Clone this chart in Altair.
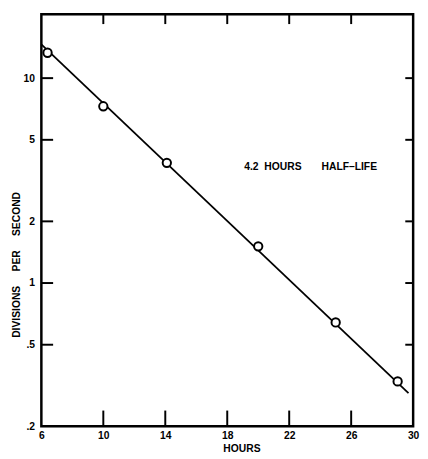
import altair as alt
import pandas as pd

# data
hours = [6.4, 10, 14.1, 20, 25, 29]
rate = [13.3, 7.29, 3.86, 1.51, 0.642, 0.331]
fit_hours = [6, 29.7]
fit_rate = [14.6, 0.29]
x_ticks = [6, 10, 14, 18, 22, 26, 30]
y_ticks = [0.2, 0.5, 1, 2, 5, 10]
inner_x_ticks = [10, 14, 18, 22, 26]
inner_y_ticks = [0.5, 1, 2, 5, 10]
NB = "\u00a0"
note_text = ["4.2" + NB * 2 + "HOURS" + NB * 7 + "HALF\u2013LIFE"]
note_x = [19.1]
note_y = [3.69]
x_title = "HOURS"
y_title = "DIVISIONS" + NB * 5 + "PER" + NB * 5 + "SECOND"

W, H = 379, 420
FONT = "Liberation Sans"

pts = pd.DataFrame({"h": hours, "r": rate})
fit = pd.DataFrame({"h": fit_hours, "r": fit_rate})
note = pd.DataFrame({"t": note_text, "h": note_x, "r": note_y})
xt = pd.DataFrame({"h": inner_x_ticks})
yt = pd.DataFrame({"r": inner_y_ticks})
frame_df = pd.DataFrame({"k": [0]})

xscale = alt.Scale(domain=[6, 30], nice=False, zero=False)
yscale = alt.Scale(type="log", domain=[0.2, 20.5], nice=False)

xaxis = alt.Axis(values=x_ticks, ticks=False, domain=False, grid=False,
                 labelPadding=4, labelFont=FONT, labelFontSize=10.5, labelFontWeight="bold",
                 labelColor="black", title=x_title, titleFont=FONT, titleFontSize=10.5,
                 titleFontWeight="bold", titleX=204, titleY=23, titleBaseline="middle",
                 titleAlign="center", titleColor="black", labelFlush=False, labelOverlap=False)
yaxis = alt.Axis(values=y_ticks, ticks=False, domain=False, grid=False,
                 labelPadding=7, labelFont=FONT, labelFontSize=10.5, labelFontWeight="bold",
                 labelColor="black",
                 labelExpr="datum.value < 1 ? replace(format(datum.value, '.1f'), '0.', '.') : format(datum.value, 'd')",
                 title=y_title, titleFont=FONT, titleFontSize=10.5,
                 titleFontWeight="bold", titleX=-25, titleY=255, titleAngle=-90,
                 titleAlign="center", titleBaseline="middle", titleColor="black",
                 labelFlush=False, labelOverlap=False)

x_enc = alt.X("h:Q", scale=xscale, axis=xaxis)
y_enc = alt.Y("r:Q", scale=yscale, axis=yaxis)

line = alt.Chart(fit).mark_line(color="black", strokeWidth=1.8).encode(x=x_enc, y=y_enc)
points = alt.Chart(pts).mark_point(shape="circle", size=72, filled=False, fill="white",
                                   fillOpacity=1, color="black", strokeWidth=2, opacity=1).encode(
    x=alt.X("h:Q", scale=xscale), y=alt.Y("r:Q", scale=yscale))
text = alt.Chart(note).mark_text(align="left", baseline="middle", font=FONT, fontSize=10.5,
                                 fontWeight="bold", color="black").encode(
    x=alt.X("h:Q", scale=xscale), y=alt.Y("r:Q", scale=yscale), text="t:N")

left_ticks = alt.Chart(yt).mark_rule(color="black", strokeWidth=2).encode(
    y=alt.Y("r:Q", scale=yscale), x=alt.value(0), x2=alt.value(12))
right_ticks = alt.Chart(yt).mark_rule(color="black", strokeWidth=2).encode(
    y=alt.Y("r:Q", scale=yscale), x=alt.value(W - 8), x2=alt.value(W))
bottom_ticks = alt.Chart(xt).mark_rule(color="black", strokeWidth=2).encode(
    x=alt.X("h:Q", scale=xscale), y=alt.value(H), y2=alt.value(H - 16))
top_ticks = alt.Chart(xt).mark_rule(color="black", strokeWidth=2).encode(
    x=alt.X("h:Q", scale=xscale), y=alt.value(0), y2=alt.value(10))
frame = alt.Chart(frame_df).mark_rect(fill=None, stroke="black", strokeWidth=2.5).encode(
    x=alt.value(0), x2=alt.value(W), y=alt.value(0), y2=alt.value(H))

chart = alt.layer(frame, line, points, text, left_ticks, right_ticks, bottom_ticks, top_ticks).properties(
    width=W, height=H,
    autosize=alt.AutoSizeParams(type="none"),
    padding={"left": 34, "top": 2, "right": 7, "bottom": 29},
).configure_view(stroke=None).configure(background="white")

chart.save("out.html", embed_options={"renderer": "svg", "actions": False})
